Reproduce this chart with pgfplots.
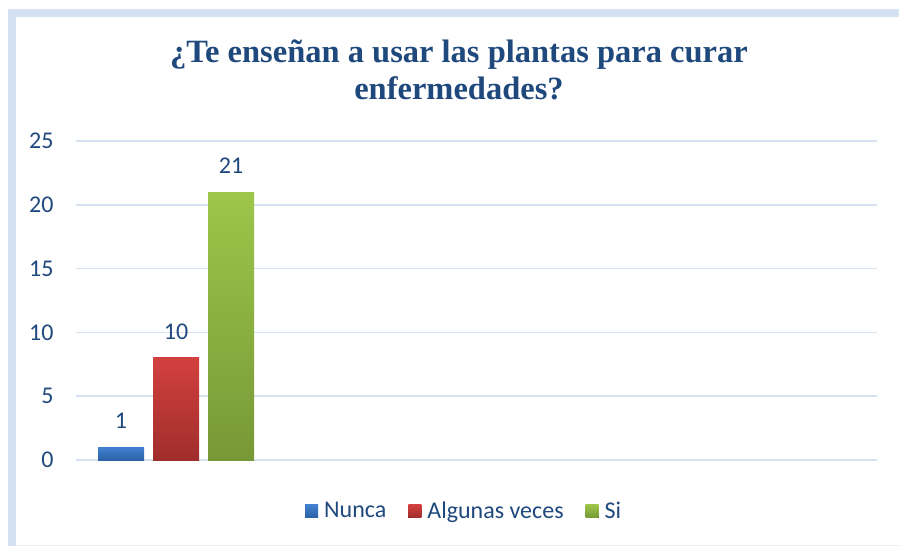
\documentclass[border=0pt]{standalone}
\usepackage{fontspec}
\setmainfont{Carlito}
\newfontfamily\titlefont{Liberation Serif}
\usepackage{pgfplots}
\pgfplotsset{compat=1.18}
\definecolor{txtblue}{RGB}{31,73,125}
\definecolor{gridblue}{RGB}{214,226,240}
\definecolor{frameblue}{RGB}{211,225,242}
\definecolor{bluetop}{RGB}{66,128,208}
\definecolor{bluebot}{RGB}{44,98,168}
\definecolor{redtop}{RGB}{210,64,62}
\definecolor{redbot}{RGB}{160,46,44}
\definecolor{greentop}{RGB}{157,198,74}
\definecolor{greenbot}{RGB}{119,152,54}
\begin{document}
\begin{tikzpicture}
  \path[use as bounding box] (0pt,0pt) rectangle (899pt,546pt);
  % frame
  \fill[frameblue] (8pt,0pt) rectangle (16pt,537pt);
  \fill[frameblue] (8pt,529pt) rectangle (899pt,537pt);
  \draw[gray!15, line width=1pt] (16pt,0.5pt) -- (899pt,0.5pt);
  % title
  \node[anchor=base, font=\titlefont\bfseries\fontsize{32.5}{38}\selectfont, text=txtblue]
    at (459pt,483pt) {¿Te enseñan a usar las plantas para curar};
  \node[anchor=base, font=\titlefont\bfseries\fontsize{32.5}{38}\selectfont, text=txtblue]
    at (459pt,446pt) {enfermedades?};
  \begin{axis}[
    at={(76pt,86pt)}, anchor=south west,
    scale only axis,
    width=801pt, height=319pt,
    xmin=76, xmax=877,
    ymin=0, ymax=25,
    ytick={0,5,10,15,20,25},
    xtick=\empty,
    ymajorgrids,
    grid style={gridblue, line width=1.5pt},
    axis line style={draw=none},
    major tick length=0pt,
    yticklabel style={font=\fontsize{24}{28}\selectfont, text=txtblue, xshift=-19pt},
    /pgf/number format/assume math mode=true,
    ybar, bar width=46, bar shift=0pt,
    point meta=explicit symbolic,
    nodes near coords,
    every node near coord/.append style={font=\fontsize{24}{28}\selectfont,
      text=txtblue, anchor=center, yshift=26pt},
    legend columns=3,
    legend style={draw=none, at={(0.484,-0.16)}, anchor=center,
      font=\fontsize{24}{28}\selectfont, text=txtblue,
      nodes={inner xsep=1pt},
      /tikz/every even column/.append style={column sep=21pt}},
    legend image code/.code={\fill[#1] (0pt,-6.5pt) rectangle (13pt,6.5pt);},
  ]
  \addplot[draw=none, top color=bluetop, bottom color=bluebot] coordinates {(121,1) [1]};
  \addlegendentry{\hspace{5pt}Nunca}
  \addplot[draw=none, top color=redtop, bottom color=redbot] coordinates {(176,8) [10]};
  \addlegendentry{\hspace{5pt}Algunas veces}
  \addplot[draw=none, top color=greentop, bottom color=greenbot] coordinates {(231,21) [21]};
  \addlegendentry{\hspace{5pt}Si}
  \end{axis}
\end{tikzpicture}
\end{document}
